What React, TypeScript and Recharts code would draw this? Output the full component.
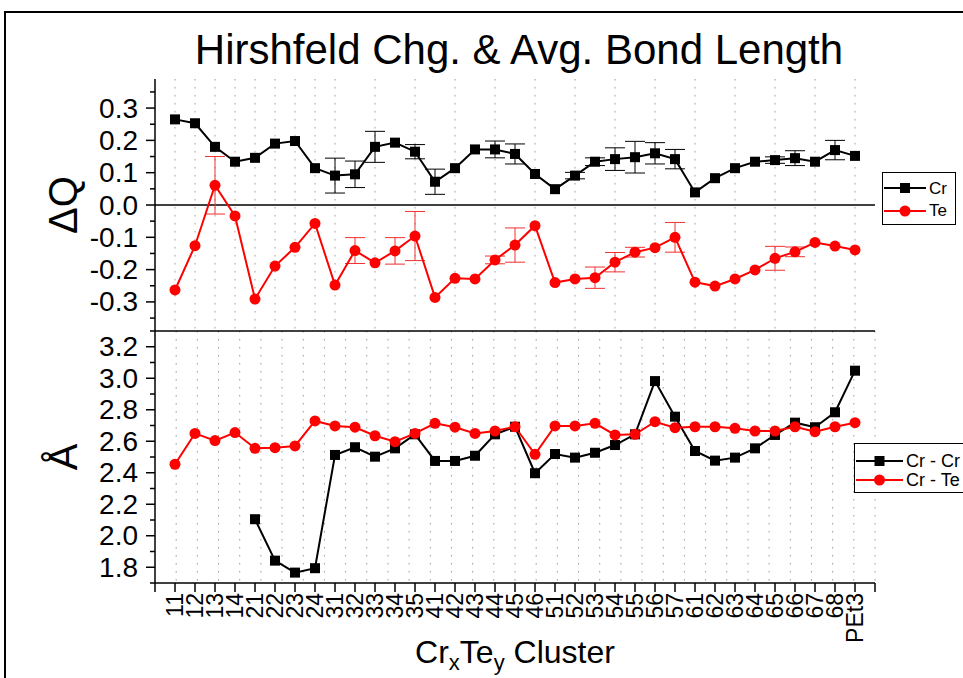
import React from 'react';
import { LineChart, Line, XAxis, YAxis, CartesianGrid, ReferenceLine, ErrorBar, Legend } from 'recharts';

const categories = ['11', '12', '13', '14', '21', '22', '23', '24', '31', '32', '33', '34', '35', '41', '42', '43', '44', '45', '46', '51', '52', '53', '54', '55', '56', '57', '61', '62', '63', '64', '65', '66', '67', '68', 'PEt3'];

// Hirshfeld charge (top panel)
const chgCr = [0.265, 0.253, 0.18, 0.134, 0.146, 0.19, 0.198, 0.114, 0.091, 0.095, 0.18, 0.193, 0.165, 0.072, 0.114, 0.172, 0.172, 0.158, 0.096, 0.049, 0.091, 0.134, 0.142, 0.148, 0.16, 0.142, 0.039, 0.083, 0.114, 0.134, 0.139, 0.145, 0.134, 0.17, 0.152];
const chgCrErr = [0, 0, 0, 0, 0, 0, 0, 0, 0.054, 0.041, 0.048, 0, 0.022, 0.039, 0, 0, 0.026, 0.031, 0, 0, 0.01, 0.012, 0.035, 0.049, 0.033, 0.03, 0, 0, 0, 0, 0.01, 0.023, 0, 0.03, 0];
const chgTe = [-0.263, -0.126, 0.061, -0.034, -0.291, -0.189, -0.131, -0.057, -0.248, -0.141, -0.179, -0.142, -0.096, -0.286, -0.227, -0.229, -0.17, -0.124, -0.064, -0.24, -0.229, -0.225, -0.177, -0.146, -0.132, -0.1, -0.239, -0.251, -0.229, -0.201, -0.165, -0.145, -0.116, -0.127, -0.139];
const chgTeErr = [0, 0, 0.089, 0, 0, 0, 0, 0, 0, 0.04, 0, 0.041, 0.076, 0, 0, 0, 0.012, 0.053, 0, 0, 0, 0.033, 0.03, 0.015, 0, 0.046, 0, 0, 0, 0, 0.037, 0.015, 0, 0, 0];

// average bond length (bottom panel)
const bondCrCr = [null, null, null, null, 2.105, 1.842, 1.766, 1.794, 2.513, 2.562, 2.502, 2.555, 2.644, 2.475, 2.475, 2.508, 2.644, 2.692, 2.397, 2.519, 2.496, 2.527, 2.576, 2.644, 2.982, 2.756, 2.538, 2.477, 2.496, 2.555, 2.64, 2.718, 2.689, 2.784, 3.048];
const bondCrTe = [2.454, 2.65, 2.604, 2.655, 2.555, 2.559, 2.57, 2.729, 2.697, 2.689, 2.635, 2.597, 2.65, 2.714, 2.689, 2.65, 2.665, 2.692, 2.517, 2.697, 2.697, 2.714, 2.64, 2.644, 2.724, 2.686, 2.692, 2.692, 2.682, 2.665, 2.665, 2.692, 2.661, 2.692, 2.718];

const chgTicks = [-0.35, -0.3, -0.25, -0.2, -0.15, -0.1, -0.05, 0, 0.05, 0.1, 0.15, 0.2, 0.25, 0.3, 0.35];
const bondTicks = [1.7, 1.8, 1.9, 2.0, 2.1, 2.2, 2.3, 2.4, 2.5, 2.6, 2.7, 2.8, 2.9, 3.0, 3.1, 3.2, 3.3];
// x positions: 0 and 36 are the empty ends of the axis
const xTicks = [0, ...categories.map((_, i) => i + 1), categories.length + 1];

const chgData = categories.map((name, i) => ({ idx: i + 1, name, cr: chgCr[i], crErr: chgCrErr[i], te: chgTe[i], teErr: chgTeErr[i] }));
const bondData = categories.map((name, i) => ({ idx: i + 1, name, crcr: bondCrCr[i], crte: bondCrTe[i] }));

const FONT = '"Liberation Sans", Arial, sans-serif';
const RED = '#ff0000';
const W = 963;
const H = 678;

const YTick = (props: any) => {
  const { x, y, payload, isMajor } = props;
  const major = isMajor(payload.value);
  return (
    <g>
      <line x1={x - (major ? 9 : 5)} x2={x} y1={y} y2={y} stroke="#000" strokeWidth={1.5} />
      {major && (
        <text x={x - 17} y={y} textAnchor="end" dominantBaseline="central" fontSize={28} fontFamily={FONT} fill="#000">
          {payload.value.toFixed(1)}
        </text>
      )}
    </g>
  );
};

const XTick = (props: any) => {
  const { x, y, payload } = props;
  const label = categories[payload.value - 1] ?? '';
  return (
    <text transform={`translate(${x},${y}) rotate(-90)`} textAnchor="end" dominantBaseline="central" fontSize={23} fontFamily={FONT} fill="#000">
      {label}
    </text>
  );
};

const squareDot = (p: any) => {
  if (p.cx == null || p.cy == null || p.value == null) return <g key={p.index} />;
  return <rect key={p.index} x={p.cx - 5} y={p.cy - 5} width={10} height={10} fill="#000" />;
};

const yTitle = (text: string) => (p: any) => {
  const vb = p.viewBox || {};
  return (
    <text transform={`translate(${(vb.x || 0) + 63},${(vb.y || 0) + (vb.height || 0) / 2}) rotate(-90)`} textAnchor="middle" dominantBaseline="central" fontSize={40} fontFamily={FONT} fill="#000">
      {text}
    </text>
  );
};

const LegendBox = ({ payload, lineLen, fontSize, rowH, padTop }: any) => (
  <div style={{ border: '1.5px solid #000', background: '#fff', padding: `${padTop}px 0 2px 1px`, fontFamily: FONT }}>
    {(payload || []).map((p: any) => (
      <div key={p.value} style={{ display: 'flex', alignItems: 'center', height: rowH }}>
        <svg width={lineLen} height={14} style={{ display: 'block' }}>
          <line x1={0} x2={lineLen} y1={7} y2={7} stroke={p.color} strokeWidth={2} />
          {p.type === 'square' ? (
            <rect x={lineLen / 2 - 5} y={2} width={10} height={10} fill={p.color} />
          ) : (
            <circle cx={lineLen / 2} cy={7} r={5.5} fill={p.color} />
          )}
        </svg>
        <span style={{ marginLeft: 3, fontSize, lineHeight: 1, whiteSpace: 'nowrap' }}>{p.value}</span>
      </div>
    ))}
  </div>
);

export default function App() {
  return (
    <div style={{ position: 'absolute', left: 0, top: 0, width: W, height: H, overflow: 'hidden', background: '#fff' }}>
      <div style={{ position: 'absolute', left: 4, top: 11, width: 1100, height: 800, border: '2px solid #000' }} />
      <div style={{ position: 'absolute', left: 155, top: 29, width: 728, textAlign: 'center', fontFamily: FONT, fontSize: 42, lineHeight: '42px', color: '#000' }}>
        Hirshfeld Chg. &amp; Avg. Bond Length
      </div>
      <div style={{ position: 'absolute', left: 155, top: 636, width: 720, textAlign: 'center', fontFamily: FONT, fontSize: 32, lineHeight: '32px', color: '#000' }}>
        Cr<sub style={{ fontSize: 22, lineHeight: 0 }}>x</sub>Te<sub style={{ fontSize: 22, lineHeight: 0 }}>y</sub> Cluster
      </div>

      <div style={{ position: 'absolute', left: 0, top: 0 }}>
        <LineChart width={W} height={H} data={chgData} margin={{ top: 79, right: 88, bottom: 347, left: 0 }}>
          <CartesianGrid horizontal={false} verticalValues={chgData.map((d) => d.idx)} stroke="#9a9a9a" strokeDasharray="1.5 6.5" />
          <XAxis dataKey="idx" type="number" domain={[0, categories.length + 1]} hide />
          <YAxis
            type="number"
            domain={[-0.39, 0.39]}
            allowDataOverflow
            ticks={chgTicks}
            interval={0}
            width={155}
            tickLine={false}
            tickSize={0}
            tickMargin={0}
            axisLine={{ stroke: '#000', strokeWidth: 1.5 }}
            tick={(p: any) => <YTick {...p} isMajor={(v: number) => Math.round(v * 100) % 10 === 0} />}
            label={yTitle('ΔQ')}
          />
          <ReferenceLine y={0} stroke="#000" strokeWidth={1.5} />
          <Line dataKey="cr" name="Cr" legendType="square" stroke="#000" strokeWidth={2} dot={squareDot} activeDot={false} isAnimationActive={false}>
            <ErrorBar dataKey="crErr" direction="y" width={10} stroke="#000" strokeWidth={1} />
          </Line>
          <Line dataKey="te" name="Te" legendType="circle" stroke={RED} strokeWidth={2} dot={{ r: 5.5, fill: RED, stroke: RED, strokeWidth: 0 }} activeDot={false} isAnimationActive={false}>
            <ErrorBar dataKey="teErr" direction="y" width={10} stroke="#f03030" strokeWidth={1} />
          </Line>
          <Legend
            layout="vertical"
            align="center"
            verticalAlign="middle"
            wrapperStyle={{ left: 882, top: 172, width: 74 }}
            content={(p: any) => <LegendBox payload={p.payload} lineLen={42} fontSize={17} rowH={22.5} padTop={4} />}
          />
        </LineChart>
      </div>

      <div style={{ position: 'absolute', left: 0, top: 0 }}>
        <LineChart width={W} height={H} data={bondData} margin={{ top: 330, right: 88, bottom: 0, left: 0 }}>
          <CartesianGrid horizontal={false} verticalValues={bondData.map((d) => d.idx)} stroke="#9a9a9a" strokeDasharray="1.5 6.5" />
          <XAxis
            xAxisId="bottom"
            dataKey="idx"
            type="number"
            domain={[0, categories.length + 1]}
            allowDataOverflow
            ticks={xTicks}
            interval={0}
            height={95}
            tickSize={9}
            tickMargin={1}
            tickLine={{ stroke: '#000', strokeWidth: 1.5 }}
            axisLine={{ stroke: '#000', strokeWidth: 1.5 }}
            tick={(p: any) => <XTick {...p} />}
          />
          <XAxis
            xAxisId="top"
            orientation="top"
            dataKey="idx"
            type="number"
            domain={[0, categories.length + 1]}
            allowDataOverflow
            ticks={xTicks}
            interval={0}
            height={1}
            tickSize={-9}
            tick={false}
            tickLine={{ stroke: '#000', strokeWidth: 1.5 }}
            axisLine={{ stroke: '#000', strokeWidth: 1.5 }}
          />
          <YAxis
            type="number"
            domain={[1.7, 3.3]}
            allowDataOverflow
            ticks={bondTicks}
            interval={0}
            width={155}
            tickLine={false}
            tickSize={0}
            tickMargin={0}
            axisLine={{ stroke: '#000', strokeWidth: 1.5 }}
            tick={(p: any) => <YTick {...p} isMajor={(v: number) => Math.round(v * 10) % 2 === 0} />}
            label={yTitle('Å')}
          />
          <Line xAxisId="bottom" dataKey="crcr" name="Cr - Cr" legendType="square" stroke="#000" strokeWidth={2} dot={squareDot} activeDot={false} isAnimationActive={false} />
          <Line xAxisId="bottom" dataKey="crte" name="Cr - Te" legendType="circle" stroke={RED} strokeWidth={2} dot={{ r: 5.5, fill: RED, stroke: RED, strokeWidth: 0 }} activeDot={false} isAnimationActive={false} />
          <Legend
            layout="vertical"
            align="center"
            verticalAlign="middle"
            wrapperStyle={{ left: 854, top: 443, width: 130 }}
            content={(p: any) => <LegendBox payload={p.payload} lineLen={47} fontSize={18} rowH={19.5} padTop={7} />}
          />
        </LineChart>
      </div>
    </div>
  );
}
